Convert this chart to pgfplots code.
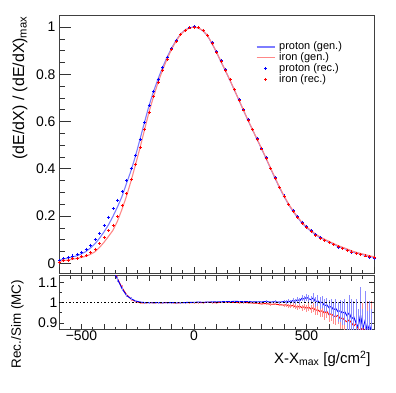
\documentclass[border=0pt]{standalone}
\usepackage{pgfplots}
\pgfplotsset{compat=1.18}
\usepackage{pgfplotstable}
\usepackage{fontspec}
\setmainfont{Liberation Sans}

\definecolor{pgen}{RGB}{125,125,255}
\definecolor{fgen}{RGB}{255,135,135}
\definecolor{prec}{RGB}{0,0,255}
\definecolor{frec}{RGB}{255,0,0}

\pgfplotsset{
  genleg/.style={legend image code/.code={\draw[##1] (0bp,0bp) -- (18bp,0bp);}},
  recleg/.style={legend image code/.code={\draw[mark repeat=2, mark phase=2, ##1] plot coordinates {(0bp,0bp) (9bp,0bp) (18bp,0bp)};}},
}

\pgfplotstableread{
x pg fg pr fr
-600 0.012 0.008 0.013 0.004
-580 0.018 0.011 0.020 0.014
-560 0.023 0.014 0.025 0.012
-540 0.027 0.017 0.031 0.021
-520 0.032 0.021 0.038 0.020
-500 0.040 0.025 0.047 0.030
-480 0.050 0.030 0.060 0.034
-460 0.065 0.038 0.077 0.046
-440 0.083 0.049 0.100 0.060
-420 0.106 0.067 0.128 0.082
-400 0.133 0.089 0.161 0.108
-380 0.163 0.114 0.196 0.137
-360 0.199 0.140 0.231 0.162
-340 0.239 0.179 0.267 0.200
-320 0.283 0.229 0.303 0.245
-300 0.338 0.284 0.350 0.295
-280 0.392 0.348 0.400 0.355
-260 0.454 0.417 0.458 0.420
-240 0.525 0.489 0.526 0.490
-220 0.597 0.565 0.597 0.565
-200 0.667 0.640 0.667 0.640
-180 0.727 0.705 0.727 0.705
-160 0.780 0.765 0.780 0.765
-140 0.828 0.817 0.828 0.817
-120 0.872 0.864 0.872 0.864
-100 0.910 0.905 0.910 0.905
-80 0.943 0.940 0.943 0.940
-60 0.970 0.968 0.970 0.968
-40 0.987 0.986 0.987 0.986
-20 0.997 0.996 0.997 0.996
0 1.000 1.000 1.002 1.000
20 0.996 0.996 0.999 0.997
40 0.984 0.985 0.986 0.985
60 0.963 0.964 0.966 0.966
80 0.930 0.931 0.934 0.932
100 0.893 0.894 0.897 0.894
120 0.853 0.854 0.857 0.856
140 0.814 0.815 0.819 0.817
160 0.774 0.775 0.778 0.777
180 0.732 0.733 0.737 0.734
200 0.690 0.691 0.694 0.691
220 0.647 0.648 0.650 0.649
240 0.605 0.606 0.609 0.606
260 0.565 0.566 0.567 0.565
280 0.525 0.526 0.528 0.524
300 0.485 0.487 0.487 0.484
320 0.444 0.446 0.447 0.444
340 0.402 0.404 0.403 0.401
360 0.360 0.363 0.362 0.360
380 0.320 0.323 0.321 0.320
400 0.283 0.286 0.285 0.283
420 0.249 0.252 0.251 0.248
440 0.220 0.223 0.223 0.220
460 0.194 0.197 0.197 0.193
480 0.170 0.173 0.174 0.169
500 0.151 0.154 0.155 0.150
520 0.136 0.139 0.138 0.135
540 0.121 0.124 0.122 0.119
560 0.109 0.112 0.109 0.107
580 0.099 0.102 0.098 0.097
600 0.090 0.093 0.088 0.087
620 0.081 0.084 0.078 0.079
640 0.072 0.075 0.069 0.070
660 0.065 0.068 0.062 0.063
680 0.058 0.061 0.054 0.055
700 0.050 0.053 0.046 0.048
720 0.044 0.047 0.040 0.042
740 0.039 0.042 0.037 0.036
760 0.034 0.037 0.031 0.031
780 0.029 0.032 0.026 0.027
800 0.025 0.028 0.022 0.024
}\maintab

\pgfplotstableread{
x rp ep rf ef
-400 1.21 0.03 1.22 0.04
-380 1.20 0.02 1.20 0.03
-360 1.16 0.015 1.17 0.02
-340 1.117 0.012 1.12 0.015
-320 1.07 0.01 1.075 0.012
-300 1.036 0.008 1.04 0.01
-280 1.02 0.006 1.018 0.008
-260 1.009 0.005 1.006 0.006
-240 1.003 0.004 1.0 0.005
-220 1.001 0.003 0.998 0.004
-200 1.0 0.003 1.001 0.003
-180 1.0 0.002 0.999 0.003
-160 1.001 0.002 1.0 0.002
-140 1.0 0.002 0.999 0.002
-120 1.0 0.002 1.001 0.002
-100 1.001 0.002 1.0 0.002
-80 1.0 0.002 0.998 0.002
-60 1.0 0.002 1.0 0.002
-40 1.001 0.002 1.0 0.002
-20 1.002 0.002 1.0 0.002
0 1.002 0.002 1.0 0.002
20 1.003 0.002 1.001 0.002
40 1.002 0.002 1.0 0.002
60 1.003 0.002 1.002 0.002
80 1.004 0.002 1.001 0.002
100 1.004 0.002 1.0 0.002
120 1.005 0.002 1.002 0.002
140 1.006 0.003 1.003 0.003
160 1.005 0.003 1.002 0.003
180 1.007 0.003 1.002 0.003
200 1.006 0.003 1.0 0.003
220 1.005 0.003 1.001 0.003
240 1.006 0.004 1.0 0.004
260 1.004 0.004 0.998 0.004
280 1.005 0.004 0.997 0.004
300 1.004 0.005 0.994 0.005
320 1.006 0.005 0.996 0.005
340 1.003 0.006 0.992 0.006
360 1.005 0.006 0.993 0.006
380 1.002 0.007 0.99 0.007
400 1.006 0.008 0.988 0.008
410 1.003 0.009 0.99 0.009
420 1.008 0.01 0.985 0.01
430 1.004 0.01 0.983 0.01
440 1.012 0.011 0.987 0.011
450 1.007 0.012 0.98 0.012
460 1.015 0.013 0.978 0.013
470 1.01 0.014 0.983 0.014
480 1.022 0.015 0.975 0.015
490 1.018 0.016 0.98 0.016
500 1.027 0.018 0.972 0.018
510 1.02 0.019 0.978 0.019
520 1.015 0.02 0.968 0.02
530 1.024 0.022 0.975 0.022
540 1.005 0.024 0.962 0.024
550 1.01 0.026 0.965 0.026
560 0.998 0.028 0.955 0.028
570 1.003 0.03 0.96 0.03
580 0.985 0.032 0.948 0.032
590 0.99 0.034 0.958 0.034
600 0.975 0.036 0.94 0.036
610 0.982 0.038 0.945 0.038
620 0.965 0.04 0.935 0.04
630 0.972 0.045 0.93 0.042
640 0.955 0.05 0.938 0.045
650 0.96 0.055 0.92 0.05
660 0.948 0.06 0.925 0.055
670 0.955 0.065 0.912 0.06
680 0.935 0.07 0.905 0.065
690 0.95 0.09 0.915 0.07
700 0.92 0.1 0.9 0.075
710 0.93 0.08 0.885 0.08
720 0.9 0.12 0.895 0.085
730 0.88 0.09 0.87 0.09
740 0.94 0.14 0.86 0.1
750 0.87 0.1 0.88 0.12
760 0.91 0.15 0.85 0.13
770 0.86 0.1 0.87 0.14
780 0.89 0.12 0.845 0.12
790 0.85 0.12 0.86 0.15
}\ratiotab

\begin{document}
\begin{tikzpicture}
\useasboundingbox (-59bp,-120bp) rectangle (337bp,273bp);
% ---------- top panel ----------
\begin{axis}[
  at={(0,0)}, anchor=south west, scale only axis,
  width=315bp, height=258bp,
  xmin=-600, xmax=800, ymin=-0.041, ymax=1.051,
  axis line style={black!75, line width=0.8bp},
  tick align=inside, ytick pos=left,
  xtick=\empty,
  ytick={0,0.2,0.4,0.6,0.8,1},
  yticklabels={0,0.2,0.4,0.6,0.8,1},
  minor y tick num=3,
  major tick length=11.7bp, minor tick length=6bp,
  every tick/.append style={black!80, line width=0.7bp},
  tick label style={font=\fontsize{14}{14}\selectfont},
  ylabel={(dE/dX) / (dE/dX)\textsubscript{max}},
  every axis y label/.style={at={(rel axis cs:-0.124,1.008)}, anchor=east, rotate=90, font=\fontsize{16}{16}\selectfont},
  legend cell align=left,
  legend style={at={(rel axis cs:0.625,0.898)}, anchor=north west, draw=none, fill=none,
    inner sep=0pt, row sep=0pt, column sep=0bp,
    /tikz/every odd column/.style={column sep=3.5bp},
    /tikz/every even column/.style={column sep=0bp},
    font=\fontsize{11}{11}\selectfont,
    nodes={inner sep=0.5bp, text height=7.7bp, text depth=2.2bp}},
]
\addplot[pgen, line width=1.1bp, no markers, genleg] table[x=x, y=pg]{\maintab};
\addlegendentry{proton (gen.)}
\addplot[fgen, line width=1.1bp, no markers, genleg] table[x=x, y=fg]{\maintab};
\addlegendentry{iron (gen.)}
\addplot[prec, only marks, mark=+, mark size=1.5bp, mark options={line width=0.9bp}, recleg] table[x=x, y=pr]{\maintab};
\addlegendentry{proton (rec.)}
\addplot[frec, only marks, mark=+, mark size=1.5bp, mark options={line width=0.9bp}, recleg] table[x=x, y=fr]{\maintab};
\addlegendentry{iron (rec.)}
\end{axis}
% ---------- x ticks of the top panel ----------
\begin{axis}[
  at={(0,0)}, anchor=south west, scale only axis,
  width=315bp, height=258bp,
  xmin=-600, xmax=800, ymin=0, ymax=1,
  axis line style={draw=none},
  ytick=\empty,
  xtick={-600,-500,-400,-300,-200,-100,0,100,200,300,400,500,600,700,800},
  xticklabels={,,,,,,,,,,,,,,,},
  minor x tick num=1,
  xtick pos=bottom, tick align=inside,
  major tick length=5.7bp, minor tick length=3bp,
  every tick/.append style={black!80, line width=0.7bp},
]
\end{axis}
% ---------- ratio panel ----------
\begin{axis}[
  at={(0,-2.5bp)}, anchor=north west, scale only axis,
  width=315bp, height=54bp,
  xmin=-600, xmax=800, ymin=0.867, ymax=1.135,
  axis line style={black!75, line width=0.8bp},
  tick align=inside, tick pos=both,
  xtick={-600,-500,-400,-300,-200,-100,0,100,200,300,400,500,600,700,800},
  xticklabels={{},{−500},{},{},{},{},{0},{},{},{},{},{500},{},{},{}},
  minor x tick num=1,
  ytick={0.9,1,1.1},
  yticklabels={0.9,1,1.1},
  minor y tick num=1,
  major tick length=5.5bp, minor tick length=3bp,
  every tick/.append style={black!80, line width=0.7bp},
  tick label style={font=\fontsize{14}{14}\selectfont},
  xticklabel style={yshift=2.5bp},
  yticklabel style={xshift=2bp},
  ylabel={Rec./Sim (MC)},
  every axis y label/.style={at={(rel axis cs:-0.132,0.98)}, anchor=east, rotate=90, font=\fontsize{13.5}{13.5}\selectfont},
  xlabel={X-X\textsubscript{max} [g/cm\textsuperscript{2}]},
  every axis x label/.style={at={(rel axis cs:1,-0.626)}, anchor=base east, font=\fontsize{15}{15}\selectfont},
]
\addplot[frec, line width=0.9bp, mark=none,
  error bars/.cd, y dir=both, y explicit, error mark=none,
  error bar style={frec!45, line width=0.8bp}] table[x=x, y=rf, y error=ef]{\ratiotab};
\addplot[prec, line width=0.9bp, mark=none,
  error bars/.cd, y dir=both, y explicit, error mark=none,
  error bar style={prec!45, line width=0.8bp}] table[x=x, y=rp, y error=ep]{\ratiotab};
\addplot[black, line width=1bp, dash pattern=on 1.5bp off 2bp] coordinates {(-600,1) (800,1)};
\end{axis}
\end{tikzpicture}
\end{document}
